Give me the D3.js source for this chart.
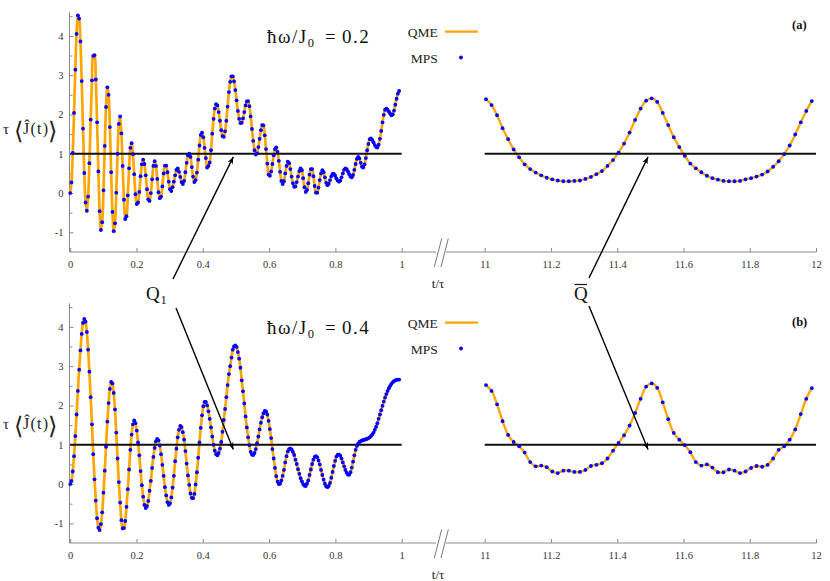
<!DOCTYPE html>
<html><head><meta charset="utf-8">
<script src="https://cdn.jsdelivr.net/npm/d3@7"></script>
<style>
body{margin:0;background:#fff}
svg{display:block;background:#fff}
text{font-family:"Liberation Serif","DejaVu Serif",serif}
</style>
</head><body>
<svg id="chart" width="830" height="581"></svg>
<script>
// ---------------- data ----------------
const leftTicks = [0, 0.2, 0.4, 0.6, 0.8, 1];
const rightTicks = [11, 11.2, 11.4, 11.6, 11.8, 12];
const yTicks = [-1, 0, 1, 2, 3, 4];
const yMinorTicks = [-0.5, 0.5, 1.5, 2.5, 3.5, 4.5];
const referenceLevel = 1;
const dtLeft = 1 / 259;          // MPS sampling step, left window (t/tau from 0)
const tRight0 = 11.004;          // first MPS sample, right window
const dtRight = 1 / 60;          // MPS sampling step, right window
const omegaValues = ["0.2", "0.4"];
const panelTags = ["(a)", "(b)"];

// panel (a): hbar*omega/J0 = 0.2
const topLeftValues = [
 0.00,0.27,1.02,2.04,3.14,4.05,4.52,4.44,3.86,2.85,
 1.64,0.51,-0.24,-0.45,-0.09,0.76,1.87,2.87,3.49,3.51,
 2.89,1.80,0.55,-0.46,-0.94,-0.74,0.07,1.20,2.19,2.69,
 2.50,1.68,0.53,-0.48,-0.97,-0.77,0.01,1.00,1.76,1.95,
 1.52,0.69,-0.17,-0.66,-0.59,-0.06,0.63,1.15,1.27,0.99,
 0.48,-0.03,-0.28,-0.24,0.03,0.43,0.73,0.85,0.74,0.45,
 0.10,-0.16,-0.20,0.00,0.35,0.69,0.81,0.69,0.36,0.02,
 -0.13,-0.09,0.17,0.50,0.70,0.70,0.53,0.29,0.10,0.05,
 0.15,0.29,0.45,0.59,0.63,0.54,0.41,0.28,0.23,0.31,
 0.53,0.77,0.96,1.00,0.92,0.66,0.42,0.28,0.33,0.52,
 0.85,1.21,1.48,1.54,1.42,1.15,0.89,0.65,0.69,0.78,
 1.09,1.51,1.89,2.15,2.26,2.23,2.06,1.84,1.60,1.45,
 1.43,1.57,1.84,2.20,2.57,2.83,2.97,2.97,2.84,2.62,
 2.36,2.09,1.89,1.78,1.79,1.90,2.06,2.23,2.33,2.34,
 2.21,1.95,1.63,1.33,1.09,0.98,1.01,1.17,1.38,1.60,
 1.73,1.72,1.47,1.12,0.75,0.47,0.44,0.55,0.74,0.96,
 1.12,1.16,1.05,0.82,0.54,0.31,0.23,0.30,0.50,0.69,
 0.80,0.76,0.61,0.42,0.25,0.16,0.17,0.28,0.42,0.56,
 0.63,0.58,0.38,0.15,0.03,0.08,0.25,0.47,0.61,0.61,
 0.43,0.18,0.01,0.01,0.14,0.33,0.50,0.58,0.53,0.40,
 0.26,0.20,0.24,0.33,0.43,0.49,0.49,0.44,0.37,0.32,
 0.29,0.32,0.40,0.50,0.59,0.63,0.61,0.55,0.48,0.42,
 0.40,0.46,0.59,0.74,0.87,0.92,0.88,0.77,0.67,0.65,
 0.73,0.89,1.09,1.25,1.37,1.39,1.35,1.29,1.22,1.17,
 1.16,1.23,1.38,1.58,1.80,1.99,2.12,2.15,2.12,2.07,
 2.02,1.98,2.00,2.10,2.25,2.40,2.53,2.60
];
const topRightValues = [
 2.39,2.24,1.98,1.65,1.37,1.11,0.91,0.73,0.61,0.52,
 0.45,0.39,0.35,0.32,0.30,0.30,0.31,0.32,0.36,0.41,
 0.48,0.56,0.69,0.84,1.03,1.26,1.54,1.86,2.15,2.35,
 2.41,2.32,2.04,1.73,1.42,1.17,0.95,0.75,0.63,0.53,
 0.44,0.38,0.34,0.31,0.30,0.30,0.31,0.35,0.38,0.42,
 0.47,0.55,0.67,0.81,0.99,1.21,1.49,1.80,2.09,2.34
];

// panel (b): hbar*omega/J0 = 0.4
const bottomLeftValues = [
 0.00,0.08,0.32,0.71,1.22,1.77,2.37,2.91,3.40,3.82,
 4.10,4.20,4.13,3.87,3.42,2.86,2.21,1.52,0.76,0.12,
 -0.42,-0.87,-1.11,-1.17,-1.02,-0.72,-0.22,0.34,0.95,1.59,
 2.06,2.42,2.60,2.56,2.32,1.90,1.31,0.65,0.05,-0.47,
 -0.92,-1.13,-1.12,-0.94,-0.58,-0.13,0.37,0.87,1.26,1.52,
 1.62,1.55,1.36,1.06,0.73,0.33,-0.03,-0.32,-0.53,-0.61,
 -0.56,-0.43,-0.17,0.08,0.41,0.69,0.92,1.09,1.15,1.11,
 0.98,0.76,0.49,0.21,-0.08,-0.29,-0.46,-0.53,-0.49,-0.34,
 -0.09,0.21,0.58,0.90,1.19,1.38,1.48,1.45,1.32,1.13,
 0.84,0.52,0.22,-0.02,-0.24,-0.35,-0.36,-0.25,-0.01,0.30,
 0.67,1.06,1.43,1.75,1.98,2.09,2.09,2.00,1.85,1.66,
 1.44,1.21,1.00,0.85,0.76,0.73,0.79,0.90,1.07,1.33,
 1.63,1.91,2.21,2.52,2.80,3.00,3.22,3.42,3.50,3.53,
 3.49,3.36,3.19,2.96,2.64,2.36,2.05,1.72,1.44,1.19,
 0.99,0.82,0.75,0.74,0.79,0.89,1.04,1.21,1.39,1.56,
 1.70,1.80,1.86,1.85,1.77,1.61,1.40,1.17,0.89,0.65,
 0.41,0.20,0.06,0.00,0.01,0.09,0.21,0.36,0.55,0.71,
 0.83,0.89,0.91,0.88,0.82,0.74,0.62,0.51,0.38,0.26,
 0.15,0.07,0.00,-0.04,-0.05,0.01,0.09,0.23,0.37,0.51,
 0.62,0.69,0.71,0.68,0.60,0.50,0.36,0.23,0.11,0.01,
 -0.06,-0.08,-0.05,0.03,0.16,0.31,0.46,0.59,0.70,0.75,
 0.75,0.72,0.65,0.55,0.45,0.36,0.29,0.24,0.24,0.30,
 0.42,0.57,0.73,0.87,0.97,1.03,1.07,1.09,1.11,1.12,
 1.13,1.14,1.15,1.17,1.19,1.22,1.26,1.31,1.38,1.46,
 1.55,1.66,1.77,1.88,1.99,2.10,2.20,2.29,2.37,2.44,
 2.50,2.55,2.59,2.62,2.64,2.65,2.66,2.66
];
const bottomRightValues = [
 2.52,2.37,2.03,1.60,1.25,1.07,0.96,0.80,0.56,0.45,
 0.47,0.43,0.32,0.28,0.34,0.34,0.31,0.31,0.36,0.46,
 0.49,0.53,0.65,0.85,1.05,1.24,1.49,1.81,2.17,2.48,
 2.56,2.45,2.08,1.65,1.30,1.13,0.99,0.81,0.56,0.47,
 0.50,0.42,0.30,0.30,0.37,0.34,0.28,0.32,0.41,0.46,
 0.44,0.49,0.65,0.87,0.96,1.13,1.39,1.78,2.17,2.44
];

// ---------------- layout ----------------
const svg = d3.select("#chart");
const ORANGE = "#FFA500", BLUE = "#0000FF", AXIS = "#8a8a8a", LABEL = "#333";
const xL = d3.scaleLinear().domain([0, 1]).range([70.2, 401.7]);
const xR = d3.scaleLinear().domain([11, 12]).range([484.7, 816]);

const defs = svg.append("defs");
defs.append("marker").attr("id", "arr").attr("viewBox", "0 0 10 10")
  .attr("refX", 10).attr("refY", 5).attr("markerWidth", 7).attr("markerHeight", 7)
  .attr("markerUnits", "userSpaceOnUse").attr("orient", "auto")
  .append("path").attr("d", "M0,1 L10,5 L0,9 L2.5,5 Z").attr("fill", "#000");

const panels = [
  {oy: 0, left: topLeftValues, right: topRightValues, omega: omegaValues[0], tag: panelTags[0], tagY: 29, ylabY: 134},
  {oy: 291, left: bottomLeftValues, right: bottomRightValues, omega: omegaValues[1], tag: panelTags[1], tagY: 326, ylabY: 429}
];

panels.forEach(p => {
  const y = d3.scaleLinear().domain([-1.5, 4.6]).range([252 + p.oy, 12.3 + p.oy]);
  const g = svg.append("g");
  const axisY = y(-1.5);

  // x axis base lines with break
  g.append("line").attr("x1", 69.5).attr("x2", 436).attr("y1", axisY).attr("y2", axisY)
    .attr("stroke", AXIS).attr("stroke-width", 1);
  g.append("line").attr("x1", 446).attr("x2", 816.5).attr("y1", axisY).attr("y2", axisY)
    .attr("stroke", AXIS).attr("stroke-width", 1);
  [[434.3, 441.7], [441, 448.3]].forEach(([a, b]) => {
    g.append("line").attr("x1", a).attr("y1", axisY + 15).attr("x2", b).attr("y2", axisY - 13.5)
      .attr("stroke", "#777").attr("stroke-width", 1);
  });

  const fmt = d => String(d);
  const styleAxis = sel => {
    sel.select(".domain").remove();
    sel.selectAll(".tick line").attr("stroke", AXIS);
    sel.selectAll(".tick text").attr("fill", LABEL).attr("font-size", 10.5);
  };
  g.append("g").attr("transform", `translate(0,${axisY})`)
    .call(d3.axisBottom(xL).tickValues(leftTicks).tickSize(-4).tickPadding(9).tickFormat(fmt))
    .call(styleAxis);
  g.append("g").attr("transform", `translate(0,${axisY})`)
    .call(d3.axisBottom(xR).tickValues(rightTicks).tickSize(-4).tickPadding(9).tickFormat(fmt))
    .call(styleAxis);

  // y axis
  g.append("line").attr("x1", 69.5).attr("x2", 69.5).attr("y1", y(-1.5)).attr("y2", y(4.6))
    .attr("stroke", AXIS).attr("stroke-width", 1);
  g.append("g").attr("transform", "translate(69.5,0)")
    .call(d3.axisLeft(y).tickValues(yTicks).tickSize(-4).tickPadding(6).tickFormat(fmt))
    .call(styleAxis);
  g.append("g").attr("transform", "translate(69.5,0)")
    .call(d3.axisLeft(y).tickValues(yMinorTicks).tickSize(-3).tickFormat(""))
    .call(styleAxis);

  // data
  const leftData = p.left.map((v, i) => [i * dtLeft, v]);
  const rightData = p.right.map((v, i) => [tRight0 + i * dtRight, v]);
  const lineL = d3.line().x(d => xL(d[0])).y(d => y(d[1])).curve(d3.curveCatmullRom.alpha(0.5));
  const lineR = d3.line().x(d => xR(d[0])).y(d => y(d[1])).curve(d3.curveCatmullRom.alpha(0.5));
  g.append("path").datum(leftData).attr("d", lineL).attr("fill", "none")
    .attr("stroke", ORANGE).attr("stroke-width", 2.7).attr("stroke-linejoin", "round");
  g.append("path").datum(rightData).attr("d", lineR).attr("fill", "none")
    .attr("stroke", ORANGE).attr("stroke-width", 2.3).attr("stroke-linejoin", "round");

  // reference level
  g.append("line").attr("x1", xL(0)).attr("x2", xL(1)).attr("y1", y(referenceLevel)).attr("y2", y(referenceLevel))
    .attr("stroke", "#111").attr("stroke-width", 2);
  g.append("line").attr("x1", xR(11)).attr("x2", xR(12)).attr("y1", y(referenceLevel)).attr("y2", y(referenceLevel))
    .attr("stroke", "#111").attr("stroke-width", 2);

  g.selectAll("circle.l").data(leftData).join("circle").attr("class", "l")
    .attr("cx", d => xL(d[0])).attr("cy", d => y(d[1])).attr("r", 1.9).attr("fill", BLUE);
  g.selectAll("circle.r").data(rightData).join("circle").attr("class", "r")
    .attr("cx", d => xR(d[0])).attr("cy", d => y(d[1])).attr("r", 1.9).attr("fill", BLUE);

  // axis titles
  g.append("text").attr("x", 438).attr("y", axisY + 36).attr("text-anchor", "middle")
    .attr("font-size", 13).attr("fill", "#222").text("t/τ");
  g.append("text").attr("x", 3).attr("y", p.ylabY).attr("font-size", 15).attr("fill", "#222").text("τ");
  g.append("text").attr("x", 14).attr("y", p.ylabY + 5).attr("font-size", 24).attr("fill", "#222")
    .style("font-family", "'DejaVu Serif', serif").text("⟨");
  g.append("text").attr("x", 23).attr("y", p.ylabY).attr("font-size", 16).attr("fill", "#222")
    .attr("textLength", 25).attr("lengthAdjust", "spacing").text("Ĵ(t)");
  g.append("text").attr("x", 48).attr("y", p.ylabY + 5).attr("font-size", 24).attr("fill", "#222")
    .style("font-family", "'DejaVu Serif', serif").text("⟩");

  // title  ħω/J₀ = value
  const ty = 43 + p.oy;
  const t1 = g.append("text").attr("x", 267).attr("y", ty).attr("font-size", 19).attr("fill", "#111")
    .attr("letter-spacing", 1.5).text("ħω/J");
  const w1 = t1.node().getComputedTextLength();
  g.append("text").attr("x", Math.max(267 + w1, 305)).attr("y", ty + 4).attr("font-size", 12.5).attr("fill", "#111").text("0");
  g.append("text").attr("x", 325).attr("y", ty).attr("font-size", 19).attr("fill", "#111").text("=");
  g.append("text").attr("x", 342).attr("y", ty).attr("font-size", 19).attr("fill", "#111")
    .attr("letter-spacing", 1.5).text(p.omega);

  // legend
  g.append("text").attr("x", 437.7).attr("y", 36.7 + p.oy).attr("text-anchor", "end")
    .attr("font-size", 13.5).attr("fill", "#222").text("QME");
  g.append("line").attr("x1", 445).attr("x2", 478).attr("y1", 31.7 + p.oy).attr("y2", 31.7 + p.oy)
    .attr("stroke", ORANGE).attr("stroke-width", 2.3);
  g.append("text").attr("x", 437.7).attr("y", 62.7 + p.oy).attr("text-anchor", "end")
    .attr("font-size", 13.5).attr("fill", "#222").text("MPS");
  g.append("circle").attr("cx", 461).attr("cy", 57.5 + p.oy).attr("r", 1.9).attr("fill", BLUE);

  // panel tag
  g.append("text").attr("x", 792).attr("y", p.tagY).attr("font-size", 12.5).attr("font-weight", "bold")
    .attr("fill", "#111").text(p.tag);

  p.y = y;
});

// annotations: Q1 and Q-bar arrows
const yA = panels[0].y, yB = panels[1].y;
const arrows = [
  [173, 279, xL(0.492), yA(0.92)],
  [176, 308, xL(0.492), yB(0.88)],
  [589, 278, xR(11.493), yA(0.92)],
  [589, 306, xR(11.493), yB(0.88)]
];
arrows.forEach(([x1, y1, x2, y2]) => {
  svg.append("line").attr("x1", x1).attr("y1", y1).attr("x2", x2).attr("y2", y2)
    .attr("stroke", "#000").attr("stroke-width", 1.4).attr("marker-end", "url(#arr)");
});
svg.append("text").attr("x", 146).attr("y", 300).attr("font-size", 19).attr("fill", "#111").text("Q");
svg.append("text").attr("x", 160.5).attr("y", 304).attr("font-size", 12.5).attr("fill", "#111").text("1");
svg.append("text").attr("x", 574).attr("y", 300).attr("font-size", 19).attr("fill", "#111").text("Q");
svg.append("line").attr("x1", 574.5).attr("x2", 587).attr("y1", 284.5).attr("y2", 284.5)
  .attr("stroke", "#111").attr("stroke-width", 1.2);
</script>
</body></html>
